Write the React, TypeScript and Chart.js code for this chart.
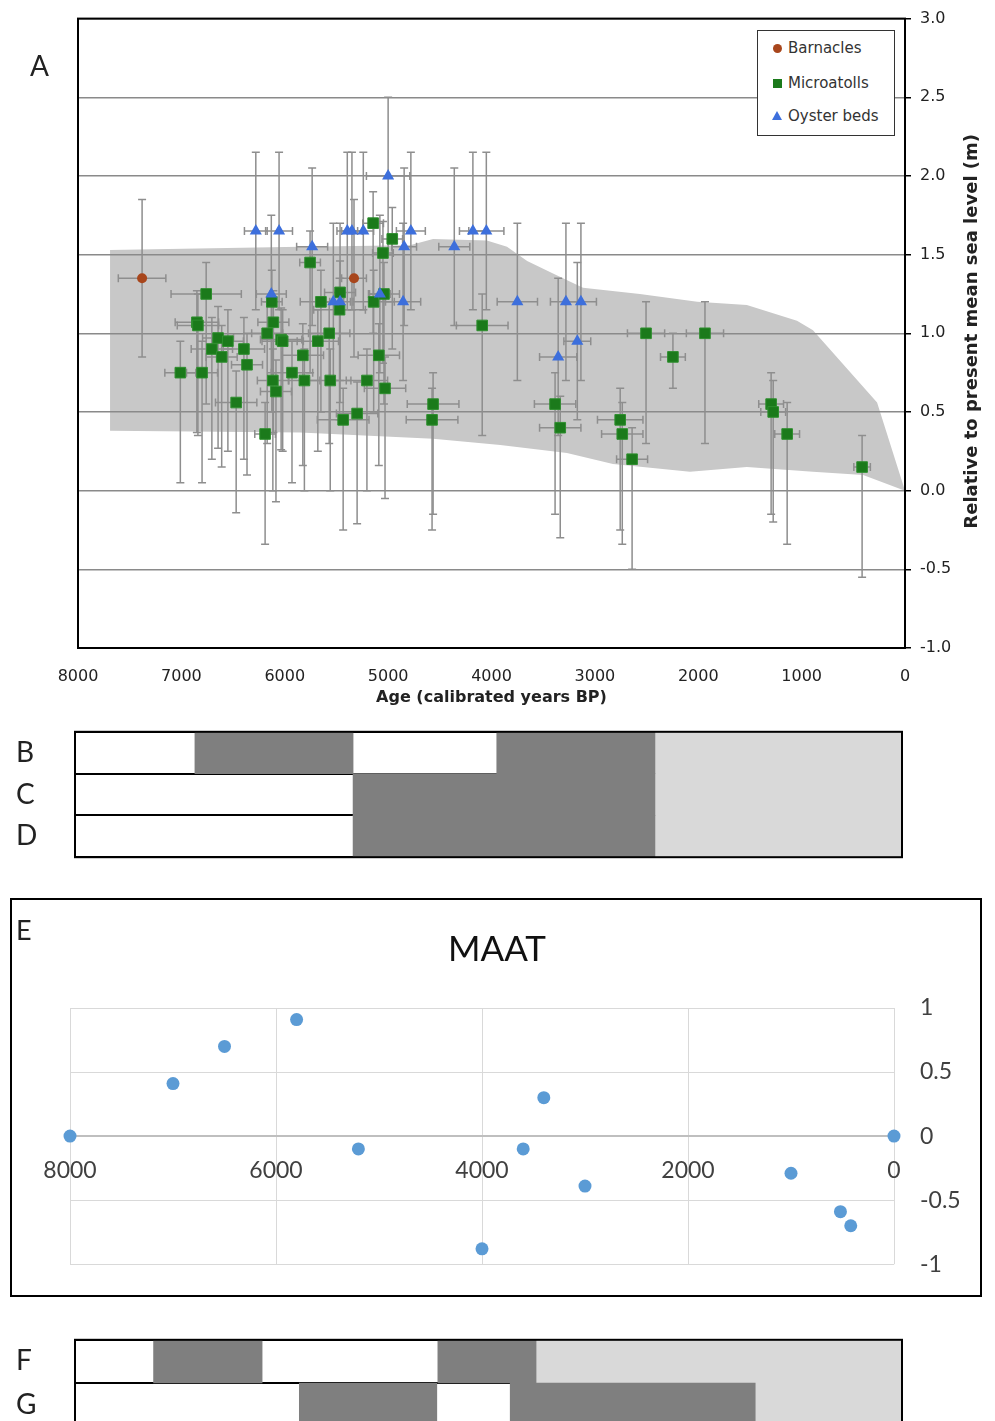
import React, { useEffect, useRef } from 'react';
import { Chart, registerables } from 'chart.js';

Chart.register(...registerables);

// ---------------- Panel A: sea-level indicators ----------------
const barnacleAge = [7380, 5330];
const barnacleLevel = [1.35, 1.35];
const barnacleAgeErr = [230, 120];
const barnacleErrUp = [0.5, 0.5];
const barnacleErrDown = [0.5, 0.5];

const oysterAge = [6280, 6055, 6130, 5735, 5530, 5465, 5395, 5350, 5240, 5000, 5080, 4845, 4780, 4855, 4360, 4180, 4050, 3750, 3280, 3135, 3170, 3355];
const oysterLevel = [1.65, 1.65, 1.25, 1.55, 1.2, 1.2, 1.65, 1.65, 1.65, 2.0, 1.25, 1.55, 1.65, 1.2, 1.55, 1.65, 1.65, 1.2, 1.2, 1.2, 0.95, 0.85];
const oysterAgeErr = [110, 130, 145, 150, 100, 100, 100, 100, 100, 210, 100, 120, 140, 170, 150, 130, 170, 195, 150, 150, 130, 180];
const oysterErrUp = [0.5, 0.5, 0.5, 0.5, 0.5, 0.5, 0.5, 0.5, 0.5, 0.5, 0.5, 0.5, 0.5, 0.5, 0.5, 0.5, 0.5, 0.5, 0.5, 0.5, 0.5, 0.5];
const oysterErrDown = [0.5, 0.5, 0.5, 0.5, 0.5, 0.5, 0.5, 0.5, 0.5, 0.5, 0.5, 0.5, 0.5, 0.5, 0.5, 0.5, 0.5, 0.5, 0.5, 0.5, 0.5, 0.5];

const microAge = [7010, 6800, 6760, 6850, 6840, 6645, 6550, 6705, 6610, 6395, 6365, 6470, 6190, 6125, 6110, 6170, 6035, 6115, 6085, 5930, 6020, 5825, 5810, 5755, 5680, 5650, 5570, 5560, 5465, 5470, 5435, 5300, 5205, 5145, 5140, 5090, 5050, 5040, 5030, 4960, 4565, 4575, 4090, 3385, 3335, 2755, 2735, 2640, 2505, 2245, 1935, 1295, 1275, 1140, 415];
const microLevel = [0.75, 0.75, 1.25, 1.07, 1.05, 0.97, 0.95, 0.9, 0.85, 0.9, 0.8, 0.56, 0.36, 1.2, 1.07, 1.0, 0.96, 0.7, 0.63, 0.75, 0.95, 0.86, 0.7, 1.45, 0.95, 1.2, 1.0, 0.7, 1.26, 1.15, 0.45, 0.49, 0.7, 1.7, 1.2, 0.86, 1.51, 1.25, 0.65, 1.6, 0.55, 0.45, 1.05, 0.55, 0.4, 0.45, 0.36, 0.2, 1.0, 0.85, 1.0, 0.55, 0.5, 0.36, 0.15];
const microAgeErr = [150, 150, 340, 210, 200, 150, 150, 200, 150, 200, 150, 200, 100, 100, 150, 150, 200, 150, 150, 200, 200, 200, 150, 100, 200, 200, 200, 200, 150, 250, 250, 200, 200, 100, 200, 200, 100, 150, 200, 100, 250, 250, 250, 200, 200, 220, 200, 150, 180, 120, 180, 120, 120, 120, 80];
const microErrUp = [0.2, 0.2, 0.2, 0.2, 0.2, 0.2, 0.2, 0.2, 0.2, 0.2, 0.2, 0.2, 0.2, 0.2, 0.2, 0.2, 0.2, 0.2, 0.2, 0.2, 0.2, 0.2, 0.2, 0.2, 0.2, 0.2, 0.2, 0.2, 0.2, 0.2, 0.2, 0.2, 0.2, 0.2, 0.2, 0.2, 0.2, 0.2, 0.2, 0.2, 0.2, 0.2, 0.2, 0.2, 0.2, 0.2, 0.2, 0.2, 0.2, 0.15, 0.2, 0.2, 0.2, 0.2, 0.2];
const microErrDown = [0.7, 0.7, 0.7, 0.7, 0.7, 0.7, 0.7, 0.7, 0.7, 0.7, 0.7, 0.7, 0.7, 0.7, 0.7, 0.7, 0.7, 0.7, 0.7, 0.7, 0.7, 0.7, 0.7, 0.7, 0.7, 0.7, 0.7, 0.7, 0.7, 0.7, 0.7, 0.7, 0.7, 0.7, 0.7, 0.7, 0.7, 0.7, 0.7, 0.7, 0.7, 0.7, 0.7, 0.7, 0.7, 0.7, 0.7, 0.7, 0.7, 0.2, 0.7, 0.7, 0.7, 0.7, 0.7];

// grey envelope
const envUpperAge = [7690, 5850, 4790, 4565, 4045, 3850, 3655, 3405, 3115, 2565, 2010, 1530, 1045, 890, 270, 0];
const envUpperLevel = [1.53, 1.55, 1.56, 1.6, 1.59, 1.55, 1.46, 1.38, 1.29, 1.25, 1.2, 1.18, 1.08, 1.02, 0.56, 0.0];
const envLowerAge = [7690, 5850, 4565, 3915, 3270, 2825, 2080, 1530, 890, 405, 0];
const envLowerLevel = [0.38, 0.37, 0.33, 0.29, 0.24, 0.17, 0.12, 0.15, 0.12, 0.1, 0.0];

// ---------------- Bars B, C, D ----------------
const bcdRows = ['B', 'C', 'D'];
const bcdDarkA: ([number, number] | null)[] = [[5310, 6840], [2390, 5310], [2390, 5310]];
const bcdDarkB: ([number, number] | null)[] = [[2390, 3920], null, null];
const bcdLight: ([number, number] | null)[] = [[0, 2390], [0, 2390], [0, 2390]];

// ---------------- Panel E: MAAT ----------------
const maatAge = [8000, 7000, 6500, 5800, 5200, 4000, 3600, 3400, 3000, 1000, 520, 420, 0];
const maatValue = [0, 0.41, 0.7, 0.91, -0.1, -0.88, -0.1, 0.3, -0.39, -0.29, -0.59, -0.7, 0];

// ---------------- Bars F, G ----------------
const fgRows = ['F', 'G'];
const fgDarkA: ([number, number] | null)[] = [[6190, 7240], [4500, 5830]];
const fgDarkB: ([number, number] | null)[] = [[3540, 4490], [1420, 3790]];
const fgLight: ([number, number] | null)[] = [[0, 3540], [0, 1420]];

const DARK = '#7f7f7f';
const LIGHT = '#d9d9d9';

const envelopePlugin = {
  id: 'envelope',
  beforeDraw(chart: any) {
    const { ctx, scales } = chart;
    const x = scales.x, y = scales.y;
    ctx.save();
    ctx.beginPath();
    envUpperAge.forEach((a, i) => {
      const px = x.getPixelForValue(a), py = y.getPixelForValue(envUpperLevel[i]);
      if (i === 0) ctx.moveTo(px, py); else ctx.lineTo(px, py);
    });
    for (let i = envLowerAge.length - 1; i >= 0; i--) {
      ctx.lineTo(x.getPixelForValue(envLowerAge[i]), y.getPixelForValue(envLowerLevel[i]));
    }
    ctx.closePath();
    ctx.fillStyle = '#c8c8c8';
    ctx.fill();
    ctx.restore();
  },
};

const errorBarPlugin = {
  id: 'errorBars',
  beforeDatasetsDraw(chart: any) {
    const { ctx, scales } = chart;
    const x = scales.x, y = scales.y;
    ctx.save();
    ctx.strokeStyle = '#8e8e8e';
    ctx.lineWidth = 1.5;
    const cap = 4;
    chart.data.datasets.forEach((ds: any) => {
      const e = ds.errorBars;
      if (!e) return;
      ds.data.forEach((p: any, i: number) => {
        const px = x.getPixelForValue(p.x);
        const py = y.getPixelForValue(p.y);
        const xl = x.getPixelForValue(p.x + e.age[i]);
        const xr = x.getPixelForValue(p.x - e.age[i]);
        const yt = y.getPixelForValue(p.y + e.up[i]);
        const yb = y.getPixelForValue(p.y - e.down[i]);
        ctx.beginPath();
        ctx.moveTo(px, yt); ctx.lineTo(px, yb);
        ctx.moveTo(px - cap, yt); ctx.lineTo(px + cap, yt);
        ctx.moveTo(px - cap, yb); ctx.lineTo(px + cap, yb);
        ctx.moveTo(xl, py); ctx.lineTo(xr, py);
        ctx.moveTo(xl, py - cap); ctx.lineTo(xl, py + cap);
        ctx.moveTo(xr, py - cap); ctx.lineTo(xr, py + cap);
        ctx.stroke();
      });
    });
    ctx.restore();
  },
};

const frameAPlugin = {
  id: 'frameA',
  afterDraw(chart: any) {
    const { ctx, chartArea: a } = chart;
    ctx.save();
    ctx.strokeStyle = '#000';
    ctx.lineWidth = 2;
    ctx.strokeRect(a.left, a.top, a.right - a.left, a.bottom - a.top);
    ctx.fillStyle = '#222';
    ctx.textAlign = 'center';
    ctx.textBaseline = 'middle';
    ctx.font = 'bold 16px "DejaVu Sans"';
    ctx.fillText('Age (calibrated years BP)', (a.left + a.right) / 2, a.bottom + 50);
    ctx.font = 'bold 18px "DejaVu Sans"';
    ctx.translate(a.right + 67, (a.top + a.bottom) / 2 - 2);
    ctx.rotate(-Math.PI / 2);
    ctx.fillText('Relative to present mean sea level (m)', 0, 0);
    ctx.restore();
  },
};

const boxFramePlugin = {
  id: 'boxFrame',
  afterDraw(chart: any) {
    const { ctx, chartArea: a } = chart;
    ctx.save();
    ctx.strokeStyle = '#000';
    ctx.lineWidth = 2;
    ctx.strokeRect(a.left, a.top, a.right - a.left, a.bottom - a.top);
    ctx.restore();
  },
};

function toPoints(xs: number[], ys: number[]) {
  return xs.map((v, i) => ({ x: v, y: ys[i] }));
}

function panelAConfig(): any {
  return {
    type: 'scatter',
    data: {
      datasets: [
        {
          label: 'Oyster beds',
          data: toPoints(oysterAge, oysterLevel),
          pointStyle: 'triangle',
          pointRadius: 7,
          backgroundColor: '#3d6fdc',
          borderColor: '#3d6fdc',
          borderWidth: 0,
          order: 0,
          errorBars: { age: oysterAgeErr, up: oysterErrUp, down: oysterErrDown },
        },
        {
          label: 'Barnacles',
          data: toPoints(barnacleAge, barnacleLevel),
          pointStyle: 'circle',
          pointRadius: 5,
          backgroundColor: '#a8461c',
          borderColor: '#a8461c',
          borderWidth: 0,
          order: 1,
          errorBars: { age: barnacleAgeErr, up: barnacleErrUp, down: barnacleErrDown },
        },
        {
          label: 'Microatolls',
          data: toPoints(microAge, microLevel),
          pointStyle: 'rect',
          pointRadius: 7.5,
          backgroundColor: '#1b7a1b',
          borderColor: '#2f8f2f',
          borderWidth: 1,
          order: 2,
          errorBars: { age: microAgeErr, up: microErrUp, down: microErrDown },
        },
      ],
    },
    options: {
      responsive: false,
      animation: false,
      events: [],
      layout: { padding: { left: 78, top: 18, right: 0, bottom: 0 } },
      plugins: { legend: { display: false }, tooltip: { enabled: false } },
      scales: {
        x: {
          type: 'linear',
          min: 0,
          max: 8000,
          reverse: true,
          ticks: {
            stepSize: 1000,
            autoSkip: false,
            maxRotation: 0,
            padding: 19,
            color: '#222',
            font: { family: '"DejaVu Sans"', size: 16 },
            callback: (v: any) => String(v),
          },
          grid: { display: false, drawTicks: false },
          border: { display: false },
          afterFit: (s: any) => { s.height = 67; },
        },
        y: {
          type: 'linear',
          position: 'right',
          min: -1,
          max: 3,
          ticks: {
            stepSize: 0.5,
            padding: 9,
            color: '#222',
            font: { family: '"DejaVu Sans"', size: 16 },
            callback: (v: any) => Number(v).toFixed(1),
          },
          grid: { color: '#8a8a8a', lineWidth: 1.5, tickLength: 6, tickColor: '#000', tickWidth: 1.5 },
          border: { display: false },
          afterFit: (s: any) => { s.width = 90; },
        },
      },
    },
    plugins: [envelopePlugin, errorBarPlugin, frameAPlugin],
  };
}

function barsConfig(rows: string[], darkA: any[], darkB: any[], light: any[]): any {
  const common = { grouped: false, barPercentage: 1, categoryPercentage: 1, borderWidth: 0 };
  return {
    type: 'bar',
    data: {
      labels: rows,
      datasets: [
        { data: darkA, backgroundColor: DARK, ...common },
        { data: darkB, backgroundColor: DARK, ...common },
        { data: light, backgroundColor: LIGHT, ...common },
      ],
    },
    options: {
      indexAxis: 'y',
      responsive: false,
      animation: false,
      events: [],
      layout: { padding: { left: 16, right: 93, top: 0, bottom: 0 } },
      plugins: { legend: { display: false }, tooltip: { enabled: false } },
      scales: {
        x: { type: 'linear', min: 0, max: 8000, reverse: true, display: false },
        y: {
          z: 1,
          grid: { offset: true, color: '#000', lineWidth: 2, drawTicks: false },
          border: { display: false },
          ticks: { font: { family: 'Lato', size: 28 }, color: '#222', crossAlign: 'far', padding: 0 },
          afterFit: (s: any) => { s.width = 59; },
        },
      },
    },
    plugins: [boxFramePlugin],
  };
}

function panelEConfig(): any {
  return {
    type: 'scatter',
    data: {
      datasets: [
        {
          label: 'MAAT',
          data: toPoints(maatAge, maatValue),
          pointRadius: 6.5,
          backgroundColor: '#5b9bd5',
          borderWidth: 0,
          clip: false,
        },
      ],
    },
    options: {
      responsive: false,
      animation: false,
      events: [],
      layout: { padding: { left: 58, right: 0, top: 108, bottom: 31 } },
      plugins: { legend: { display: false }, tooltip: { enabled: false } },
      scales: {
        x: {
          type: 'linear',
          min: 0,
          max: 8000,
          reverse: true,
          position: { y: 0 },
          ticks: {
            stepSize: 2000,
            maxRotation: 0,
            autoSkip: false,
            padding: 21,
            color: '#404040',
            font: { family: 'Lato', size: 23 },
            callback: (v: any) => String(v),
          },
          grid: { color: '#d9d9d9', lineWidth: 1, drawTicks: false },
          border: { color: '#bfbfbf', width: 2 },
          afterFit: (s: any) => { s.height = 0; },
        },
        y: {
          type: 'linear',
          position: 'right',
          min: -1,
          max: 1,
          ticks: {
            stepSize: 0.5,
            padding: 26,
            color: '#404040',
            font: { family: 'Lato', size: 23 },
            callback: (v: any) => String(v),
          },
          grid: { color: '#d9d9d9', lineWidth: 1, drawTicks: false },
          border: { display: false },
          afterFit: (s: any) => { s.width = 86; },
        },
      },
    },
  };
}

function ChartCanvas({ make, left, top, width, height }: { make: () => any; left: number; top: number; width: number; height: number }) {
  const ref = useRef<HTMLCanvasElement | null>(null);
  useEffect(() => {
    if (!ref.current) return;
    const chart = new Chart(ref.current, make());
    return () => chart.destroy();
  }, []);
  return (
    <canvas
      ref={ref}
      width={width}
      height={height}
      style={{ position: 'absolute', left, top, width, height, display: 'block' }}
    />
  );
}

const letterStyle: any = { position: 'absolute', fontFamily: 'Lato', color: '#222', lineHeight: '34px' };

export default function App() {
  return (
    <div style={{ position: 'absolute', left: 0, top: 0, width: 995, height: 1421, overflow: 'hidden', background: '#fff' }}>
      <ChartCanvas make={panelAConfig} left={0} top={0} width={995} height={715} />
      <div style={{ ...letterStyle, left: 30, top: 48, fontSize: 28 }}>A</div>
      <div
        style={{
          position: 'absolute', left: 757, top: 30, width: 138, height: 106,
          border: '1.5px solid #333', background: '#fff', boxSizing: 'border-box',
          fontFamily: '"DejaVu Sans"', fontSize: 15, color: '#333',
        }}
      >
        <div style={{ position: 'absolute', left: 15, top: 13, width: 9, height: 9, borderRadius: '50%', background: '#a8461c' }} />
        <div style={{ position: 'absolute', left: 30, top: 8, lineHeight: '18px' }}>Barnacles</div>
        <div style={{ position: 'absolute', left: 15, top: 48, width: 9, height: 9, background: '#1b7a1b' }} />
        <div style={{ position: 'absolute', left: 30, top: 43, lineHeight: '18px' }}>Microatolls</div>
        <div style={{ position: 'absolute', left: 14, top: 80, width: 0, height: 0, borderLeft: '5px solid transparent', borderRight: '5px solid transparent', borderBottom: '9px solid #3d6fdc' }} />
        <div style={{ position: 'absolute', left: 30, top: 76, lineHeight: '18px' }}>Oyster beds</div>
      </div>

      <ChartCanvas make={() => barsConfig(bcdRows, bcdDarkA, bcdDarkB, bcdLight)} left={0} top={715} width={995} height={159} />

      <div style={{ position: 'absolute', left: 10, top: 898, width: 972, height: 399, border: '2px solid #000', boxSizing: 'border-box' }} />
      <ChartCanvas make={panelEConfig} left={12} top={900} width={968} height={404} />
      <div style={{ ...letterStyle, left: 16, top: 913, fontSize: 27 }}>E</div>
      <div style={{ position: 'absolute', left: 0, top: 926, width: 994, textAlign: 'center', fontFamily: 'Lato', fontSize: 35, lineHeight: '42px', color: '#111' }}>MAAT</div>

      <ChartCanvas make={() => barsConfig(fgRows, fgDarkA, fgDarkB, fgLight)} left={0} top={1323} width={995} height={120} />
    </div>
  );
}
